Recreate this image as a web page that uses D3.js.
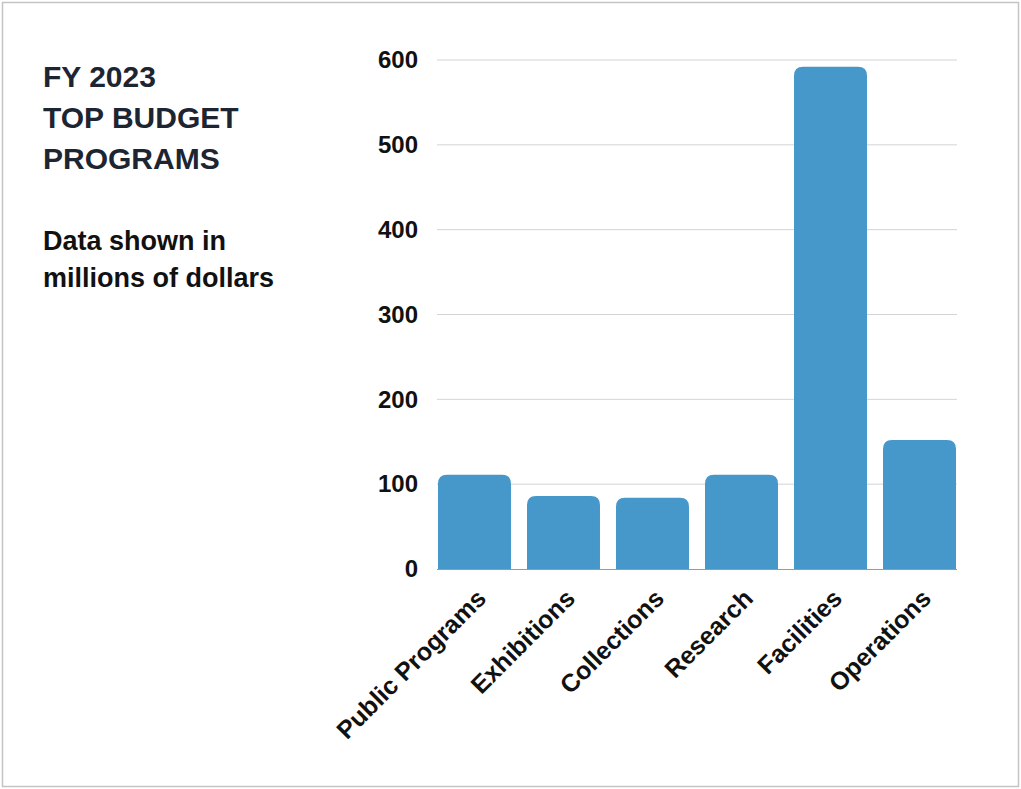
<!DOCTYPE html>
<html><head><meta charset="utf-8">
<script src="https://cdn.jsdelivr.net/npm/d3@7"></script>
<style>
html,body{margin:0;padding:0;background:#fff;}
svg{display:block;font-family:"Liberation Sans",Arial,Helvetica,sans-serif;}
</style></head>
<body>
<svg id="chart" width="1021" height="789"></svg>
<script>
const categories = ["Public Programs","Exhibitions","Collections","Research","Facilities","Operations"];
const values = [111, 86, 84, 111, 592, 152];
const yTicks = [0, 100, 200, 300, 400, 500, 600];
const titleLines = ["FY 2023","TOP BUDGET","PROGRAMS"];
const subtitleLines = ["Data shown in","millions of dollars"];

const svg = d3.select("#chart");
svg.append("rect").attr("x",2.5).attr("y",2.5).attr("width",1016).attr("height",784)
  .attr("fill","#fff").attr("stroke","#c4c4c4").attr("stroke-width",1.5);

const x = d3.scaleBand().domain(categories).range([438, 956]).paddingInner(0.18).paddingOuter(0);
const y = d3.scaleLinear().domain([0, 600]).range([569, 60]);

// gridlines
svg.append("g").selectAll("line").data(yTicks.filter(d=>d>0)).join("line")
  .attr("x1",437).attr("x2",957).attr("y1",d=>y(d)).attr("y2",d=>y(d))
  .attr("stroke","#d4d4d4").attr("stroke-width",1);

// y axis labels
const yAxis = d3.axisLeft(y).tickValues(yTicks).tickSize(0).tickPadding(0);
const yg = svg.append("g").attr("transform","translate(418,0)").call(yAxis);
yg.select(".domain").remove();
yg.selectAll("text").attr("font-size",24).attr("font-weight","bold").attr("fill","#111")
  .attr("font-family","'Liberation Sans',Arial,sans-serif");

// bars with rounded tops
const r = 9;
function barPath(d, i){
  const x0 = x(categories[i]), w = x.bandwidth(), y0 = y(0), yt = y(d);
  const rr = Math.min(r, (y0-yt));
  return `M${x0},${y0}V${yt+rr}Q${x0},${yt} ${x0+rr},${yt}H${x0+w-rr}Q${x0+w},${yt} ${x0+w},${yt+rr}V${y0}Z`;
}
svg.append("g").selectAll("path").data(values).join("path")
  .attr("d",(d,i)=>barPath(d,i)).attr("fill","#4698ca");

// baseline
svg.append("line").attr("x1",437).attr("x2",957).attr("y1",y(0)+0.5).attr("y2",y(0)+0.5)
  .attr("stroke","#9a9a9a").attr("stroke-width",1);

// x axis labels
const xAxis = d3.axisBottom(x).tickSize(0).tickPadding(0);
const xg = svg.append("g").attr("transform",`translate(0,${y(0)})`).call(xAxis);
xg.select(".domain").remove();
xg.selectAll("text").attr("font-size",25).attr("font-weight","bold").attr("fill","#111")
  .attr("font-family","'Liberation Sans',Arial,sans-serif")
  .attr("text-anchor","end").attr("dy",null).attr("y",null)
  .attr("transform","translate(13,31) rotate(-45)");

// titles
svg.append("g").selectAll("text").data(titleLines).join("text")
  .attr("x",43).attr("y",(d,i)=>87+i*41).text(d=>d)
  .attr("font-size",30).attr("font-weight","bold").attr("fill","#1c2531");
svg.append("g").selectAll("text").data(subtitleLines).join("text")
  .attr("x",43).attr("y",(d,i)=>250+i*37).text(d=>d)
  .attr("font-size",27).attr("font-weight","bold").attr("fill","#111");
</script>
</body></html>
